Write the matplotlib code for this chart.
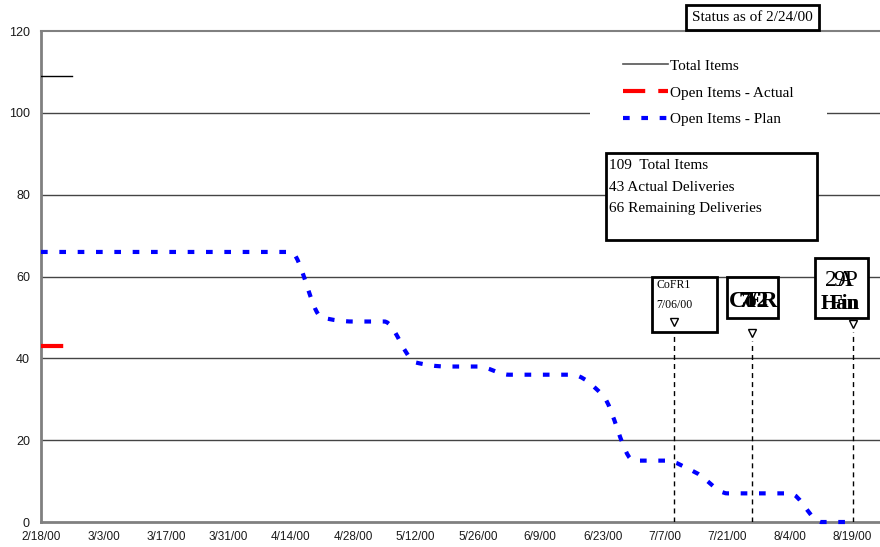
import numpy as np
import matplotlib
matplotlib.use("Agg")
import matplotlib.pyplot as plt
from matplotlib.path import Path
from matplotlib.patches import PathPatch, Rectangle
from matplotlib.lines import Line2D

plt.rcParams["lines.scale_dashes"] = False

SERIF = "Liberation Serif"
SANS = "Liberation Sans"

# ---- data -------------------------------------------------------------
# x positions are days counted from 2/18/00
tick_days = list(range(0, 183, 14))
tick_labels = ["2/18/00", "3/3/00", "3/17/00", "3/31/00", "4/14/00", "4/28/00",
               "5/12/00", "5/26/00", "6/9/00", "6/23/00", "7/7/00", "7/21/00",
               "8/4/00", "8/19/00"]
y_ticks = [0, 20, 40, 60, 80, 100, 120]

total_days = [0, 7]
total_items = [109, 109]

actual_days = [0, 7]
actual_open = [43, 43]

plan_days = list(range(0, 183, 7))
plan_open = [66, 66, 66, 66, 66, 66, 66, 66, 66,
             50, 49, 49,
             39, 38, 38,
             36, 36, 36,
             31, 15, 15,
             12, 7, 7, 7,
             0, 0]

milestone_days = [142, 159.5, 182.2]
milestone_levels = [48.9, 46.2, 48.4]

total_count = 109
actual_deliveries = 43
remaining_deliveries = 66

legend_labels = ["Total Items", "Open Items - Actual", "Open Items - Plan"]
status_text = "Status as of 2/24/00"


def smooth_path(xs, ys):
    """Monotone cubic (Fritsch-Carlson) curve through the points, as Beziers."""
    x = np.asarray(xs, float)
    y = np.asarray(ys, float)
    n = len(x)
    h = np.diff(x)
    d = np.diff(y) / h
    m = np.zeros(n)
    m[0], m[-1] = d[0], d[-1]
    for i in range(1, n - 1):
        if d[i - 1] * d[i] <= 0:
            m[i] = 0.0
        else:
            w1 = 2 * h[i] + h[i - 1]
            w2 = h[i] + 2 * h[i - 1]
            m[i] = (w1 + w2) / (w1 / d[i - 1] + w2 / d[i])
    verts = [(x[0], y[0])]
    codes = [Path.MOVETO]
    for i in range(n - 1):
        c1 = (x[i] + h[i] / 3, y[i] + m[i] * h[i] / 3)
        c2 = (x[i + 1] - h[i] / 3, y[i + 1] - m[i + 1] * h[i] / 3)
        verts += [c1, c2, (x[i + 1], y[i + 1])]
        codes += [Path.CURVE4] * 3
    return Path(verts, codes)


# ---- figure -----------------------------------------------------------
fig = plt.figure(figsize=(8.8, 5.47), dpi=100)
ax = fig.add_axes([0.0466, 0.0457, 0.9534, 0.8976])
ax.set_xlim(0, 188.2)
ax.set_ylim(0, 120)

ax.spines["right"].set_visible(False)
ax.spines["left"].set_color("#808080")
ax.spines["left"].set_linewidth(2)
ax.spines["bottom"].set_color("#808080")
ax.spines["bottom"].set_linewidth(2)
ax.spines["top"].set_color("#808080")
ax.spines["top"].set_linewidth(1.5)

ax.set_xticks(tick_days)
ax.set_xticklabels(tick_labels, fontfamily=SANS, fontsize=8.5, color="#1a1a1a")
ax.set_yticks(y_ticks)
ax.set_yticklabels([str(v) for v in y_ticks], fontfamily=SANS, fontsize=9,
                   color="#1a1a1a")
ax.tick_params(axis="x", length=0, pad=6.5)
ax.tick_params(axis="y", length=0, pad=8)

for v in y_ticks[1:-1]:
    ax.axhline(v, color="#444444", lw=1, zorder=1)

# white backing behind the legend
ax.add_patch(Rectangle((0.654, 0.788), 0.283, 0.194, transform=ax.transAxes,
                       facecolor="white", edgecolor="none", zorder=2))

# series
ax.plot(total_days, total_items, color="black", lw=1, zorder=3)
ax.plot(actual_days, actual_open, color="#ff0000", lw=3,
        dashes=(16, 9.4), dash_capstyle="butt", zorder=3)
plan_patch = PathPatch(smooth_path(plan_days, plan_open), facecolor="none",
                       edgecolor="#0000ff", lw=3, linestyle=(0, (4.8, 8.4)),
                       capstyle="butt", zorder=3, clip_on=False)
ax.add_patch(plan_patch)

# milestone markers
ax.vlines(milestone_days, 0, [lv - 2 for lv in milestone_levels], colors="black",
          linestyles=[(0, (3.6, 2.9))], lw=1, zorder=3)
ax.plot(milestone_days, milestone_levels, linestyle="none", marker="v",
        mfc="white", mec="black", ms=6, mew=1, zorder=6)

# milestone boxes
box_specs = [(137.1, 46.4, 14.6, 13.5),
             (153.9, 49.9, 11.5, 10.0),
             (173.7, 49.9, 11.9, 14.6)]
for (bx, by, bw, bh) in box_specs:
    ax.add_patch(Rectangle((bx, by), bw, bh, facecolor="white", edgecolor="black",
                           lw=2, zorder=4))

ax.text(138.0, 57.9, "CoFR1", fontfamily=SERIF, fontsize=8.5, va="center",
        ha="left", zorder=5)
ax.text(138.0, 53.0, "7/06/00", fontfamily=SERIF, fontsize=8.5, va="center",
        ha="left", zorder=5)

# crowded labels that overprint each other
for dx, s in [(-2.2, "Co"), (2.0, "FR"), (0.0, "7/2")]:
    ax.text(159.8 + dx, 53.9, s, fontfamily=SERIF, fontsize=17, fontweight="bold",
            va="center", ha="center", zorder=5)
for dx, s in [(-0.6, "2A"), (0.8, "9P")]:
    ax.text(179.6 + dx, 59.0, s, fontfamily=SERIF, fontsize=17,
            va="center", ha="center", zorder=5)
for dx, s in [(-0.5, "Han"), (0.6, "Fin")]:
    ax.text(179.6 + dx, 53.4, s, fontfamily=SERIF, fontsize=15, fontweight="bold",
            va="center", ha="center", zorder=5)

# summary box
ax.add_patch(Rectangle((0.6734, 0.5743), 0.2515, 0.1772, transform=ax.transAxes,
                       facecolor="white", edgecolor="black", lw=2, zorder=4))
summary = [f"{total_count}  Total Items",
           f"{actual_deliveries} Actual Deliveries",
           f"{remaining_deliveries} Remaining Deliveries"]
for i, s in enumerate(summary):
    ax.text(0.677, 0.7271 - i * 0.0448, s, transform=ax.transAxes,
            fontfamily=SERIF, fontsize=11, va="center", ha="left", zorder=5)

# legend
handles = [Line2D([], [], color="#555555", lw=1.2),
           Line2D([], [], color="#ff0000", lw=3, dashes=(16, 9.4),
                  dash_capstyle="butt"),
           Line2D([], [], color="#0000ff", lw=3, dashes=(4.8, 8.4),
                  dash_capstyle="butt")]
leg = ax.legend(handles, legend_labels, loc="upper left",
                bbox_to_anchor=(0.6937, 0.943), frameon=False, borderpad=0,
                borderaxespad=0, handlelength=2.95, handletextpad=0.15,
                labelspacing=0.86, prop={"family": SERIF, "size": 11})
leg.set_zorder(5)

# status stamp
fig.text(0.855, 0.9685, status_text, fontfamily=SERIF, fontsize=11,
         ha="center", va="center",
         bbox=dict(boxstyle="square,pad=0.38", facecolor="white",
                   edgecolor="black", lw=2))

fig.savefig("out.png", dpi=100)
